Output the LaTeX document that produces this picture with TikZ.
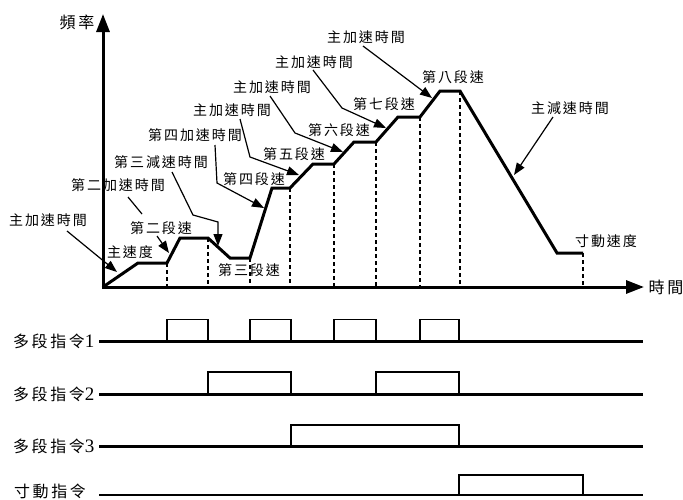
\documentclass[tikz,border=0pt]{standalone}
\usepackage{fontspec}
\setmainfont{Liberation Serif}
\newfontfamily\cjk[LetterSpace=14]{Noto Sans CJK TC}
\newfontfamily\cjkbig[LetterSpace=16]{Noto Sans CJK TC}
\usetikzlibrary{arrows.meta}
\tikzset{
  lbl/.style={inner sep=0pt, font=\cjk\fontsize{14}{14}\selectfont},
  biglbl/.style={inner sep=0pt, font=\cjkbig\fontsize{16}{16}\selectfont},
  prof/.style={line width=3pt, line join=miter},
  axisline/.style={line width=3pt, -{Triangle[length=18pt,width=13pt]}},
  guide/.style={line width=1.2pt, dash pattern=on 4pt off 3pt},
  ptr/.style={line width=1.2pt, -{Triangle[length=12pt,width=9pt]}},
  lead/.style={line width=1.2pt},
  baseline/.style={line width=2.5pt},
  pulse/.style={line width=1.6pt},
}
\newcommand{\digit}[1]{{\rmfamily\fontsize{19}{19}\selectfont #1}}
\begin{document}
\begin{tikzpicture}[x=1pt,y=-1pt]
\useasboundingbox (0,0) rectangle (683,499);

% axes
\coordinate (o) at (103,287);
\coordinate (ytip) at (103,14);
\coordinate (xtip) at (644,287);
\draw[axisline] (o) -- (ytip);
\draw[axisline] (101.5,287) -- (xtip);
\node[biglbl] (freq) at (77,22) {頻率};
\node[biglbl] (time) at (666,287) {時間};

% profile
\coordinate (p0) at (103,287);
\coordinate (p1) at (138,263);
\coordinate (p2) at (167,263);
\coordinate (p3) at (180,238);
\coordinate (p4) at (208,238);
\coordinate (p5) at (230,258);
\coordinate (p6) at (250,258);
\coordinate (p7) at (272,188);
\coordinate (p8) at (290,188);
\coordinate (p9) at (313,164);
\coordinate (p10) at (334,164);
\coordinate (p11) at (354,142);
\coordinate (p12) at (376,142);
\coordinate (p13) at (398,117);
\coordinate (p14) at (420,117);
\coordinate (p15) at (440,91);
\coordinate (p16) at (460,91);
\coordinate (p17) at (557,253);
\coordinate (p18) at (583,253);
\foreach \p in {p2,p4,p6,p8,p10,p12,p14,p16,p18}
  \draw[guide] (\p) -- (\p |- o);
\draw[prof] (p0) -- (p1) -- (p2) -- (p3) -- (p4) -- (p5) -- (p6) -- (p7) -- (p8)
  -- (p9) -- (p10) -- (p11) -- (p12) -- (p13) -- (p14) -- (p15) -- (p16) -- (p17) -- (p18);

% labels
\node[lbl] (l1) at (48,220) {主加速時間};
\node[lbl] (l2) at (130,252) {主速度};
\node[lbl] (l3) at (118,185) {第二加速時間};
\node[lbl] (l4) at (161,228) {第二段速};
\node[lbl] (l5) at (161,162) {第三減速時間};
\node[lbl] (l6) at (195,135) {第四加速時間};
\node[lbl] (la) at (232,110) {主加速時間};
\node[lbl] (l7) at (254,179) {第四段速};
\node[lbl] (lb) at (272,87) {主加速時間};
\node[lbl] (l8) at (294,154) {第五段速};
\node[lbl] (lc) at (314,62) {主加速時間};
\node[lbl] (l9) at (339,130) {第六段速};
\node[lbl] (ld) at (366,37) {主加速時間};
\node[lbl] (l10) at (384,104) {第七段速};
\node[lbl] (l11) at (453,77) {第八段速};
\node[lbl] (l12) at (570,108) {主減速時間};
\node[lbl] (l13) at (606,241) {寸動速度};
\node[lbl] (l14) at (249,270) {第三段速};

% connectors
\coordinate (s1) at (67,231);  \coordinate (t1) at (117,272);
\draw[ptr] (s1) -- (t1);
\coordinate (s3) at (128,197); \coordinate (t3) at (142,214);
\draw[lead] (s3) -- (t3);
\coordinate (s4) at (157,236); \coordinate (t4) at (169,253);
\draw[ptr] (s4) -- (t4);
\coordinate (s5) at (172,172); \coordinate (m5a) at (193,215); \coordinate (m5b) at (218,222); \coordinate (t5) at (218,246);
\draw[ptr] (s5) -- (m5a) -- (m5b) -- (t5);
\coordinate (s6) at (215,145); \coordinate (m6) at (217,183); \coordinate (t6) at (264,208);
\draw[ptr] (s6) -- (m6) -- (t6);
\coordinate (sa) at (240,119); \coordinate (ma) at (250,157); \coordinate (ta) at (299,175);
\draw[ptr] (sa) -- (ma) -- (ta);
\coordinate (sb) at (270,96); \coordinate (mb) at (295,133); \coordinate (tb) at (343,152);
\draw[ptr] (sb) -- (mb) -- (tb);
\coordinate (sc) at (313,70); \coordinate (mc) at (342,108); \coordinate (tc) at (386,128);
\draw[ptr] (sc) -- (mc) -- (tc);
\coordinate (sd) at (363,46); \coordinate (td) at (432,98);
\draw[ptr] (sd) -- (td);
\coordinate (se) at (553,117); \coordinate (te) at (514,175);
\draw[ptr] (se) -- (te);

% timing diagram
\node[biglbl, anchor=west] (c1) at (13,341.7) {多段指令\digit{1}};
\node[biglbl, anchor=west] (c2) at (13,394.3) {多段指令\digit{2}};
\node[biglbl, anchor=west] (c3) at (13,446.7) {多段指令\digit{3}};
\node[biglbl, anchor=west] (c4) at (14,491) {寸動指令};
\draw[baseline] (99,341.7) -- (643,341.7);
\draw[baseline] (99,394.3) -- (643,394.3);
\draw[baseline] (99,446.7) -- (643,446.7);
\draw[baseline] (99,495) -- (643,495);
\foreach \a/\b in {167/208,250/291,334/376,420/459}
  \draw[pulse] (\a,341.7) |- (\b,319.3) -- (\b,341.7);
\foreach \a/\b in {208/291,376/459}
  \draw[pulse] (\a,394.3) |- (\b,372) -- (\b,394.3);
\draw[pulse] (291,446.7) |- (459,425) -- (459,446.7);
\draw[pulse] (459,495) |- (583,474.7) -- (583,495);
\end{tikzpicture}
\end{document}
